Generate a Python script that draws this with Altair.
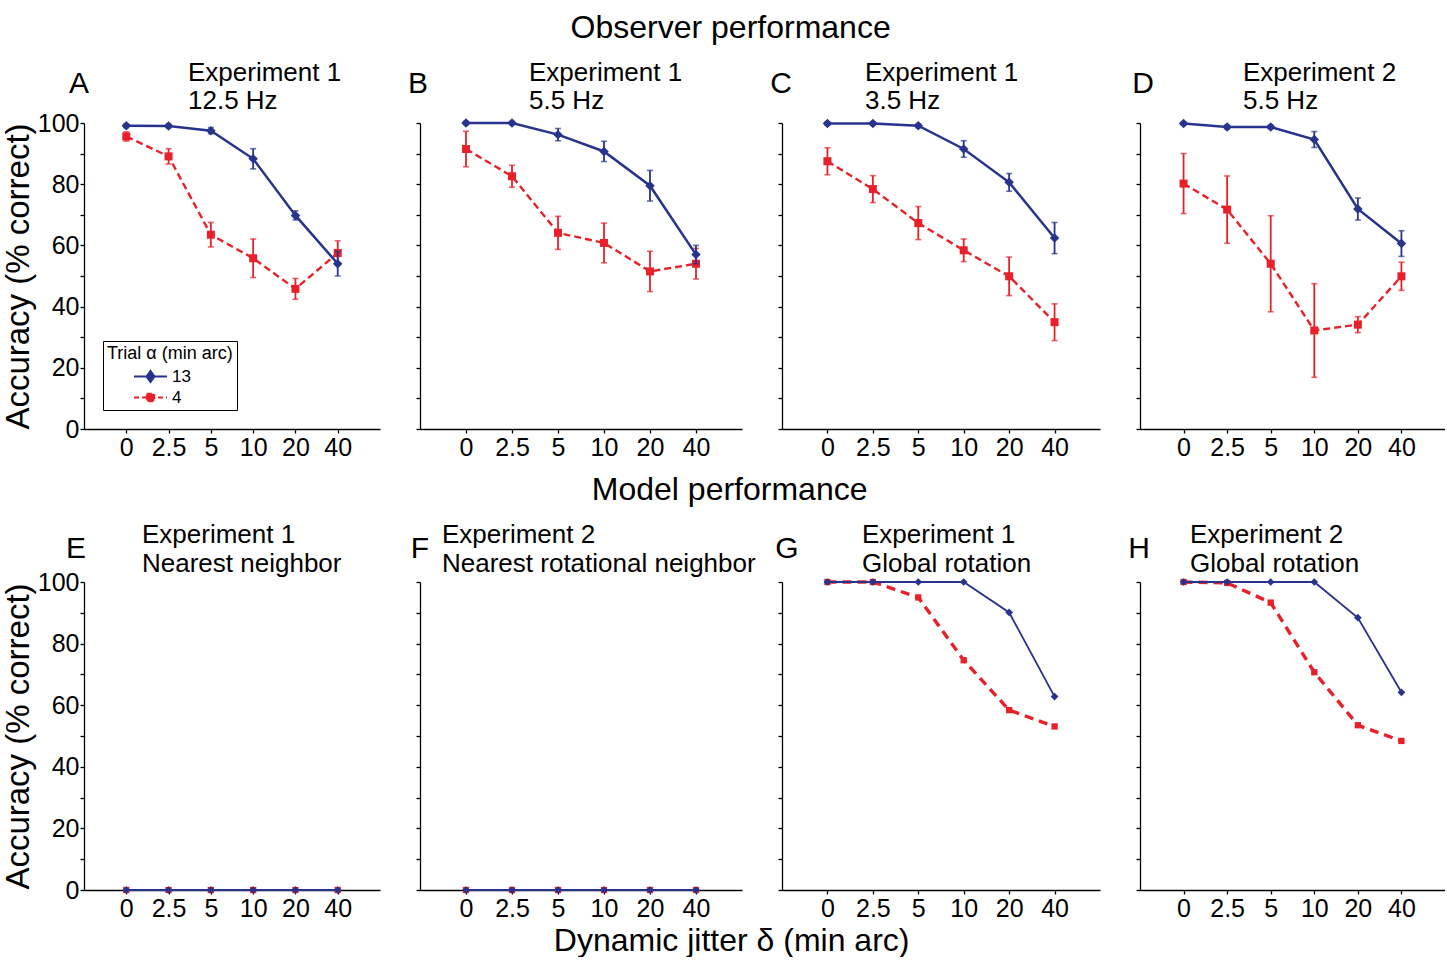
import altair as alt
import pandas as pd

# ---------------- data ----------------
jitter = ["0", "2.5", "5", "10", "20", "40"]

# Observer performance (mean, error)
A_13 = [99.1, 99.0, 97.5, 88.3, 69.8, 54.0]
A_13_err = [0.6, 0.6, 1.0, 3.3, 1.5, 4.0]
A_4 = [95.6, 89.1, 63.5, 55.8, 45.8, 57.5]
A_4_err = [1.5, 2.5, 4.0, 6.3, 3.4, 4.0]

B_13 = [100.0, 100.0, 96.2, 90.7, 79.5, 57.0]
B_13_err = [0.5, 0.5, 2.0, 3.3, 5.0, 3.0]
B_4 = [91.5, 82.6, 64.1, 60.8, 51.5, 54.0]
B_4_err = [5.8, 3.6, 5.4, 6.5, 6.6, 5.0]

C_13 = [99.8, 99.8, 99.1, 91.5, 80.6, 62.4]
C_13_err = [0.5, 0.5, 0.6, 2.7, 2.9, 5.1]
C_4 = [87.5, 78.4, 67.3, 58.4, 49.9, 34.9]
C_4_err = [4.4, 4.4, 5.4, 3.7, 6.3, 6.0]

D_13 = [99.8, 98.7, 98.7, 94.6, 71.9, 60.6]
D_13_err = [0.5, 0.6, 0.6, 2.6, 3.6, 4.2]
D_4 = [80.2, 71.7, 54.0, 32.2, 34.1, 49.9]
D_4_err = [9.8, 11.0, 15.7, 15.3, 2.6, 4.6]

# Model performance
E_13 = [0, 0, 0, 0, 0, 0]
E_4 = [0, 0, 0, 0, 0, 0]
F_13 = [0, 0, 0, 0, 0, 0]
F_4 = [0, 0, 0, 0, 0, 0]
G_13 = [100, 100, 100, 100, 90.1, 62.8]
G_4 = [100, 100, 95.0, 74.6, 58.4, 53.1]
H_13 = [100, 100, 100, 100, 88.4, 64.2]
H_4 = [100, 99.7, 93.3, 70.7, 53.5, 48.4]

letters_top = ["A", "B", "C", "D"]
letters_bottom = ["E", "F", "G", "H"]
titles_top = ["Experiment 1\n12.5 Hz", "Experiment 1\n5.5 Hz",
              "Experiment 1\n3.5 Hz", "Experiment 2\n5.5 Hz"]
titles_bottom = ["Experiment 1\nNearest neighbor", "Experiment 2\nNearest rotational neighbor",
                 "Experiment 1\nGlobal rotation", "Experiment 2\nGlobal rotation"]
series_names = ["13", "4"]
y_ticks = [0, 10, 20, 30, 40, 50, 60, 70, 80, 90, 100]

# ---------------- style ----------------
BLUE = "#27338c"
RED = "#e8202a"
FONT = "Liberation Sans"
widths = [296, 322, 318, 305]
SPACING = 40
H_TOP = 306
H_BOT = 308

title_dx_top = [104, 109, 83, 103]
title_dx_bot = [58, 22, 80, 50]
letter_dx_top = [-5, -2, -1, 3]
letter_dx_bot = [-8, 0, 5, -1]

DIAMOND_LEG = "M-3.3,0L3.3,0M0,-1.1L0.8,0L0,1.1L-0.8,0Z"
SQUARE_LEG = "M-3.3,0L3.3,0M-0.75,-0.75L0.75,-0.75L0.75,0.75L-0.75,0.75Z"


def make_legend():
    return alt.Legend(
        title="Trial α (min arc)", orient="bottom-left", offset=19,
        titleFontSize=18, titleFontWeight="normal", titleColor="black", titleFont=FONT,
        labelFontSize=17, labelColor="black", labelFont=FONT,
        padding=4, strokeColor="black", fillColor="white",
        symbolOffset=35, labelOffset=13, rowPadding=2, titlePadding=5,
        symbolStrokeWidth=2, symbolOpacity=1,
    )


def panel(vals13, err13, vals4, err4, letter, title, tdx, ldx, width, height,
          show_y, legend, model, flat, row_top):
    xenc = alt.X("jitter:O", sort=jitter,
                 scale=alt.Scale(type="point", padding=1),
                 axis=alt.Axis(title=None, labelAngle=0, labelFontSize=25, labelColor="black",
                               tickSize=4, tickColor="black", domainColor="black",
                               domainWidth=1.3, tickWidth=1.3, labelPadding=2))
    yaxis = alt.Axis(values=y_ticks, labelExpr="datum.value % 20 === 0 ? datum.label : ''",
                     labels=show_y, labelFontSize=25, labelColor="black", labelPadding=1,
                     tickSize=4, tickColor="black", domainColor="black", domainWidth=1.3,
                     tickWidth=1.3, grid=False,
                     title=("Accuracy (% correct)" if show_y else None),
                     titleFontSize=33, titleFontWeight="normal", titleColor="black", titlePadding=2)
    yscale = alt.Scale(domain=[0, 100], nice=False)

    layers = []
    specs = [("4", vals4, err4, RED, "square"), ("13", vals13, err13, BLUE, "diamond")]
    for s, vals, errs, col, shape in specs:
        df = pd.DataFrame({"jitter": jitter, "acc": vals, "series": s})
        if errs is not None:
            df["lo"] = [v - e for v, e in zip(vals, errs)]
            df["hi"] = [v + e for v, e in zip(vals, errs)]
        base = alt.Chart(df)
        if errs is not None:
            layers.append(base.mark_rule(strokeWidth=1.8, color=col).encode(
                x=xenc, y=alt.Y("lo:Q", scale=yscale, axis=yaxis), y2="hi:Q"))
            for f in ["lo", "hi"]:
                layers.append(base.mark_tick(size=6, thickness=1.6, color=col).encode(
                    x=xenc, y=alt.Y(f + ":Q", scale=yscale, axis=yaxis)))
        if s == "4":
            lw = (1.8 if flat else 3.4) if model else 2.4
            dash = [9, 6] if model else [7, 4]
            layers.append(base.mark_line(strokeWidth=lw, strokeDash=dash, color=col).encode(
                x=xenc, y=alt.Y("acc:Q", scale=yscale, axis=yaxis)))
        else:
            lw = 1.8 if model else 2.5
            layers.append(base.mark_line(strokeWidth=lw, color=col).encode(
                x=xenc, y=alt.Y("acc:Q", scale=yscale, axis=yaxis)))
        if shape == "square":
            size = 40 if model else 64
        else:
            size = 60 if model else 90
        layers.append(base.mark_point(filled=True, opacity=1, shape=shape, size=size,
                                      color=col).encode(
            x=xenc, y=alt.Y("acc:Q", scale=yscale, axis=yaxis)))

    if legend:
        leg = make_legend()
        ldf0 = pd.DataFrame({"jitter": jitter[:2], "acc": [0, 0], "series": series_names})
        layers.append(alt.Chart(ldf0).transform_filter("false").mark_point(
            filled=True, size=100, strokeWidth=2, opacity=1).encode(
            x=xenc, y=alt.Y("acc:Q", scale=yscale, axis=yaxis),
            color=alt.Color("series:N", scale=alt.Scale(domain=series_names, range=[BLUE, RED]),
                            legend=leg),
            stroke=alt.Stroke("series:N", scale=alt.Scale(domain=series_names, range=[BLUE, RED]),
                              legend=leg),
            shape=alt.Shape("series:N", scale=alt.Scale(domain=series_names,
                                                        range=[DIAMOND_LEG, SQUARE_LEG]),
                            legend=leg),
            strokeDash=alt.StrokeDash("series:N", scale=alt.Scale(domain=series_names,
                                                                  range=[[1, 0], [5, 3]]),
                                      legend=leg),
        ))

    tdf = pd.DataFrame({"t": [title]})
    ldf = pd.DataFrame({"t": [letter]})
    if row_top:
        ty, lh, ly = -42, 27.5, -39
    else:
        ty, lh, ly = -39, 29, -33
    layers.append(alt.Chart(tdf).mark_text(
        align="left", baseline="alphabetic", fontSize=26, lineBreak="\n", lineHeight=lh,
        color="black", font=FONT).encode(x=alt.value(tdx), y=alt.value(ty), text="t:N"))
    layers.append(alt.Chart(ldf).mark_text(
        align="center", baseline="middle", fontSize=30, color="black", font=FONT).encode(
        x=alt.value(ldx), y=alt.value(ly), text="t:N"))
    return alt.layer(*layers).properties(width=width, height=height)


top_data = [(A_13, A_13_err, A_4, A_4_err), (B_13, B_13_err, B_4, B_4_err),
            (C_13, C_13_err, C_4, C_4_err), (D_13, D_13_err, D_4, D_4_err)]
bot_data = [(E_13, None, E_4, None), (F_13, None, F_4, None),
            (G_13, None, G_4, None), (H_13, None, H_4, None)]

top_panels = []
for i, (v13, e13, v4, e4) in enumerate(top_data):
    top_panels.append(panel(v13, e13, v4, e4, letters_top[i], titles_top[i],
                            title_dx_top[i], letter_dx_top[i], widths[i], H_TOP,
                            show_y=(i == 0), legend=(i == 0), model=False, flat=False,
                            row_top=True))
bot_panels = []
for i, (v13, e13, v4, e4) in enumerate(bot_data):
    bot_panels.append(panel(v13, e13, v4, e4, letters_bottom[i], titles_bottom[i],
                            title_dx_bot[i], letter_dx_bot[i], widths[i], H_BOT,
                            show_y=(i == 0), legend=False, model=True, flat=(i < 2),
                            row_top=False))

indep = dict(color="independent", stroke="independent", shape="independent",
             strokeDash="independent")

row1 = alt.hconcat(*top_panels, spacing=SPACING, bounds="flush",
                   title=alt.TitleParams("Observer performance", fontSize=32, fontWeight="normal",
                                         color="black", font=FONT, anchor="middle", offset=15,
                                         dx=7)
                   ).resolve_scale(**indep)
row2 = alt.hconcat(*bot_panels, spacing=SPACING, bounds="flush",
                   title=alt.TitleParams("Model performance", fontSize=32, fontWeight="normal",
                                         color="black", font=FONT, anchor="middle", offset=15,
                                         dx=6)
                   ).resolve_scale(**indep)

chart = alt.vconcat(row1, row2, spacing=14,
                    title=alt.TitleParams("Dynamic jitter δ (min arc)", orient="bottom",
                                          fontSize=32, fontWeight="normal", color="black",
                                          font=FONT, anchor="middle", offset=5, dx=8)
                    ).resolve_scale(**indep).properties(
    padding={"left": 2, "top": 12, "right": 0, "bottom": 0}
).configure(font=FONT).configure_view(stroke=None).configure_axis(grid=False)

chart.save("out.html", embed_options={"renderer": "svg", "actions": False})
